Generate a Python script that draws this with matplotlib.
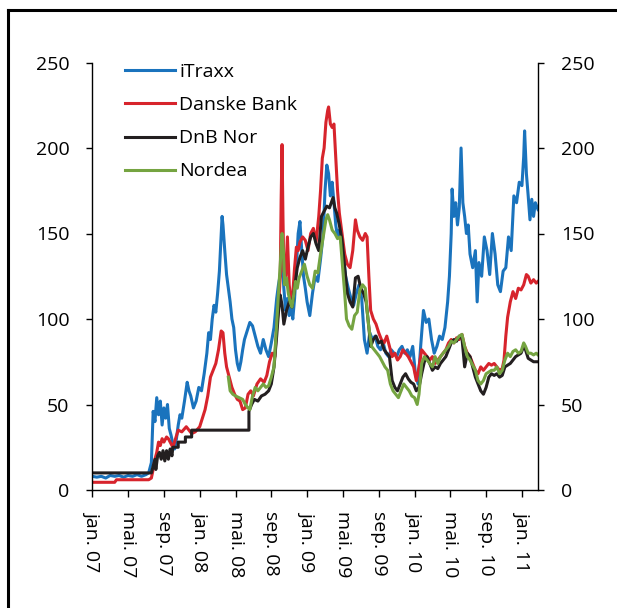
import matplotlib.pyplot as plt
from matplotlib.lines import Line2D

# x values are months since jan. 2007
itraxx_m = [0, 0.5, 1, 1.5, 2, 2.5, 3, 3.5, 4, 4.5, 5, 5.5, 6, 6.3, 6.6, 6.8, 7.0, 7.2, 7.4, 7.6,
            7.8, 8.0, 8.2, 8.4, 8.6, 8.8, 9.0, 9.2, 9.4, 9.6, 9.8, 10.0, 10.3, 10.6, 10.8, 11.0, 11.3,
            11.6, 11.9, 12.2, 12.5, 12.8, 13.0, 13.2, 13.4, 13.6, 13.8, 14.0, 14.2, 14.4, 14.5, 14.6,
            14.8, 15.0, 15.2, 15.4, 15.6, 15.8, 16.0, 16.2, 16.4, 16.6, 16.8, 17.0, 17.3, 17.6, 17.9,
            18.2, 18.5, 18.8, 19.1, 19.4, 19.7, 20.0, 20.3, 20.6, 20.8, 21.0, 21.2, 21.4, 21.6, 21.8,
            22.0, 22.2, 22.4, 22.6, 22.8, 23.0, 23.2, 23.4, 23.6, 23.8, 24.0, 24.3, 24.6, 24.9, 25.2,
            25.5, 25.8, 26.0, 26.2, 26.4, 26.6, 26.8, 27.0, 27.2, 27.4, 27.6, 27.8, 28.0, 28.3, 28.6,
            28.9, 29.2, 29.5, 29.8, 30.1, 30.4, 30.7, 31.0, 31.3, 31.6, 31.9, 32.2, 32.5, 32.8, 33.1,
            33.4, 33.7, 34.0, 34.3, 34.6, 34.9, 35.2, 35.5, 35.8, 36.1, 36.4, 36.7, 37.0, 37.3, 37.6,
            37.9, 38.2, 38.5, 38.8, 39.1, 39.4, 39.7, 39.9, 40.1, 40.2, 40.4, 40.6, 40.8, 41.0, 41.2,
            41.4, 41.6, 41.8, 42.0, 42.2, 42.5, 42.8, 43.0, 43.2, 43.5, 43.8, 44.1, 44.4, 44.7, 45.0,
            45.3, 45.6, 45.9, 46.2, 46.5, 46.8, 47.1, 47.4, 47.7, 48.0, 48.2, 48.3, 48.5, 48.7, 48.9,
            49.1, 49.3, 49.5, 49.8]
itraxx_v = [8, 7.5, 8, 7, 8.5, 8, 8.5, 7.5, 8.5, 8, 9, 8, 9, 10, 16, 46, 40, 54, 44, 52,
            38, 48, 42, 50, 36, 32, 27, 24, 30, 38, 44, 42, 52, 63, 58, 55, 48,
            52, 60, 58, 68, 80, 92, 88, 100, 108, 104, 115, 128, 150, 160, 155,
            140, 126, 118, 110, 100, 95, 82, 74, 70, 75, 82, 88, 93, 98, 96,
            90, 84, 80, 88, 82, 78, 86, 95, 112, 120, 126, 135, 118, 105, 112,
            102, 108, 100, 112, 130, 150, 157, 140, 125, 118, 110, 102, 115, 125, 122,
            135, 150, 175, 190, 185, 172, 180, 168, 155, 148, 152, 145, 140, 125, 118,
            112, 108, 115, 120, 112, 88, 80, 92, 88, 90, 84, 82, 86, 80, 78,
            82, 80, 78, 82, 84, 80, 82, 78, 84, 68, 62, 85, 105, 98, 100,
            88, 80, 84, 90, 88, 95, 110, 125, 150, 176, 160, 168, 155, 165, 200,
            168, 160, 150, 155, 138, 130, 140, 110, 133, 125, 148, 140, 126, 150, 138,
            120, 116, 128, 130, 148, 140, 172, 168, 180, 178, 195, 210, 185, 172, 158,
            170, 160, 168, 164]

danske_m = [0, 2.5, 2.7, 6.3, 6.6, 6.8, 7.0, 7.2, 7.4, 7.6, 7.8, 8.0, 8.3, 8.5, 8.8, 9.0, 9.3, 9.6,
            10.0, 10.5, 10.8, 11.1, 11.5, 12.0, 12.3, 12.6, 12.9, 13.2, 13.5, 13.8, 14.1, 14.4, 14.6,
            14.8, 15.0, 15.3, 15.6, 15.9, 16.2, 16.5, 16.8, 17.1, 17.4, 17.7, 18.0, 18.4, 18.8, 19.2,
            19.5, 19.8, 20.1, 20.4, 20.6, 20.8, 21.0, 21.1, 21.2, 21.3, 21.4, 21.6, 21.8, 22.0, 22.2,
            22.4, 22.6, 22.8, 23.0, 23.2, 23.5, 23.8, 24.1, 24.4, 24.7, 25.0, 25.3, 25.5, 25.7, 25.9,
            26.1, 26.3, 26.4, 26.6, 26.8, 27.0, 27.2, 27.4, 27.6, 27.9, 28.2, 28.5, 28.8, 29.1, 29.4,
            29.6, 29.9, 30.2, 30.5, 30.7, 30.9, 31.1, 31.4, 31.7, 32.0, 32.3, 32.6, 32.9, 33.2, 33.5,
            33.8, 34.1, 34.4, 34.7, 35.0, 35.3, 35.6, 35.9, 36.2, 36.5, 36.8, 37.1, 37.4, 37.7, 38.0,
            38.3, 38.6, 38.9, 39.2, 39.5, 39.8, 40.1, 40.4, 40.7, 41.0, 41.3, 41.6, 41.9, 42.2, 42.5,
            42.8, 43.1, 43.4, 43.7, 44.0, 44.3, 44.6, 44.9, 45.2, 45.5, 45.8, 46.0, 46.2, 46.4, 46.7,
            47.0, 47.3, 47.6, 47.9, 48.2, 48.5, 48.7, 49.0, 49.3, 49.6, 49.8]
danske_v = [4.5, 4.5, 6, 6, 7, 12, 18, 22, 28, 26, 30, 28, 31, 30, 27, 25, 30, 35,
            34, 37, 35, 33, 34, 37, 42, 47, 55, 66, 70, 74, 82, 93, 92,
            80, 72, 66, 60, 56, 53, 52, 47, 48, 56, 58, 55, 62, 65, 63,
            67, 75, 80, 78, 95, 107, 125, 170, 202, 160, 128, 125, 148, 120, 110,
            115, 130, 142, 140, 145, 148, 146, 140, 150, 153, 145, 160, 175, 194, 200,
            215, 222, 224, 214, 212, 214, 195, 175, 162, 150, 138, 132, 130, 140, 158,
            152, 148, 146, 150, 148, 125, 105, 100, 97, 92, 88, 86, 90, 84, 78,
            80, 76, 78, 82, 80, 78, 75, 72, 64, 72, 82, 80, 78, 76, 78,
            74, 76, 78, 80, 82, 86, 88, 86, 89, 88, 91, 84, 80, 78, 74,
            70, 68, 72, 70, 72, 74, 73, 74, 72, 70, 71, 76, 90, 101, 110,
            116, 112, 118, 117, 120, 126, 125, 121, 123, 121, 122]

dnb_m = [0, 6.6, 6.8, 7.0, 7.1, 7.3, 7.5, 7.7, 7.9, 8.1, 8.3, 8.5, 8.7, 8.9, 9.0, 9.6, 9.6, 10.4,
         10.4, 11.1, 11.1, 17.5, 17.5, 17.8, 18.1, 18.5, 18.9, 19.3, 19.7, 20.0, 20.3, 20.6, 20.8,
         21.0, 21.2, 21.4, 21.7, 22.0, 22.3, 22.6, 22.9, 23.2, 23.5, 23.8, 24.1, 24.4, 24.7, 25.0,
         25.3, 25.6, 25.9, 26.2, 26.5, 26.7, 26.9, 27.1, 27.3, 27.6, 27.9, 28.2, 28.5, 28.8, 29.1,
         29.4, 29.7, 30.0, 30.3, 30.6, 30.9, 31.1, 31.4, 31.7, 32.0, 32.3, 32.6, 32.9, 33.2, 33.5,
         33.8, 34.1, 34.4, 34.7, 35.0, 35.3, 35.6, 35.9, 36.2, 36.5, 36.8, 37.1, 37.4, 37.7, 38.0,
         38.3, 38.6, 38.9, 39.2, 39.5, 39.8, 40.1, 40.4, 40.7, 41.0, 41.3, 41.6, 41.9, 42.2, 42.5,
         42.8, 43.1, 43.4, 43.7, 44.0, 44.3, 44.6, 44.9, 45.2, 45.5, 45.8, 46.1, 46.4, 46.7, 47.0,
         47.3, 47.6, 47.9, 48.2, 48.4, 48.7, 49.0, 49.3, 49.6, 49.8]
dnb_v = [10, 10, 14, 18, 12, 20, 22, 18, 23, 17, 23, 18, 24, 20, 25, 25, 28, 28,
         31, 31, 35, 35, 46, 50, 53, 52, 55, 56, 58, 62, 72, 90, 104,
         114, 108, 97, 105, 110, 107, 118, 130, 136, 140, 135, 142, 148, 150, 144,
         140, 160, 163, 166, 165, 168, 171, 165, 162, 155, 146, 130, 115, 110, 107,
         124, 125, 118, 115, 110, 95, 84, 88, 90, 86, 87, 82, 80, 78, 64,
         60, 58, 62, 66, 68, 65, 63, 62, 58, 60, 68, 75, 78, 74, 70,
         72, 71, 74, 76, 78, 82, 86, 88, 87, 90, 89, 72, 80, 78, 72,
         66, 62, 58, 56, 60, 66, 68, 67, 68, 66, 67, 72, 73, 74, 76,
         78, 79, 80, 84, 82, 77, 76, 75, 75, 75]

nordea_m = [15.2, 15.4, 15.7, 16.0, 16.4, 16.8, 17.1, 17.4, 17.6, 17.9, 18.2, 18.5, 18.8, 19.1,
            19.4, 19.7, 20.0, 20.3, 20.6, 20.8, 21.0, 21.2, 21.35, 21.5, 21.7, 21.9, 22.1, 22.3,
            22.5, 22.7, 22.9, 23.1, 23.4, 23.7, 24.0, 24.3, 24.6, 24.9, 25.2, 25.5, 25.8, 26.1,
            26.3, 26.5, 26.8, 27.1, 27.4, 27.7, 28.0, 28.2, 28.4, 28.7, 29.0, 29.3, 29.6, 29.9,
            30.2, 30.5, 30.7, 30.9, 31.2, 31.5, 31.8, 32.1, 32.4, 32.7, 33.0, 33.3, 33.6, 33.9,
            34.2, 34.5, 34.8, 35.1, 35.4, 35.7, 36.0, 36.3, 36.5, 36.8, 37.1, 37.4, 37.7, 38.0,
            38.3, 38.6, 38.9, 39.2, 39.5, 39.8, 40.1, 40.4, 40.7, 41.0, 41.3, 41.6, 41.9, 42.2,
            42.5, 42.8, 43.1, 43.4, 43.7, 44.0, 44.3, 44.6, 44.9, 45.2, 45.5, 45.8, 46.1, 46.4,
            46.7, 47.0, 47.3, 47.6, 47.9, 48.2, 48.4, 48.7, 49.0, 49.3, 49.6, 49.8]
nordea_v = [66, 58, 56, 55, 54, 53, 50, 48, 47, 55, 60, 58, 60, 62,
            60, 61, 66, 72, 97, 115, 132, 150, 140, 120, 124, 115, 110, 107,
            114, 122, 118, 124, 128, 132, 125, 120, 118, 128, 127, 138, 148, 158,
            161, 158, 152, 150, 147, 148, 128, 115, 100, 96, 94, 102, 104, 117,
            120, 118, 105, 95, 84, 82, 80, 78, 75, 72, 70, 62, 58, 56,
            54, 58, 62, 60, 58, 55, 54, 50, 56, 74, 78, 76, 74, 72,
            78, 74, 78, 80, 82, 84, 87, 86, 88, 90, 91, 84, 78, 76,
            73, 70, 64, 62, 64, 68, 69, 70, 70, 72, 68, 70, 76, 80,
            78, 81, 82, 80, 81, 86, 84, 80, 80, 79, 80, 79]

tick_pos = [0, 4, 8, 12, 16, 20, 24, 28, 32, 36, 40, 44, 48]
tick_labels = ["jan. 07", "mai. 07", "sep. 07", "jan. 08", "mai. 08", "sep. 08", "jan. 09",
               "mai. 09", "sep. 09", "jan. 10", "mai. 10", "sep. 10", "jan. 11"]

plt.rcParams['font.family'] = ['Open Sans', 'DejaVu Sans']
plt.rcParams['font.size'] = 14

fig = plt.figure(figsize=(6.17, 6.08), dpi=100)
ax = fig.add_axes([92.3 / 617, 1 - 490 / 608, 446 / 617, 427.5 / 608])

ax.plot(itraxx_m, itraxx_v, color="#1a73bd", lw=2.2, label="iTraxx")
ax.plot(danske_m, danske_v, color="#d7242c", lw=2.2, label="Danske Bank")
ax.plot(dnb_m, dnb_v, color="#231f20", lw=2.2, label="DnB Nor")
ax.plot(nordea_m, nordea_v, color="#75a441", lw=2.2, label="Nordea")

ax.set_xlim(0, 49.83)
ax.set_ylim(0, 250)
ax.set_yticks(range(0, 251, 50))
ax.set_xticks(tick_pos)
ax.set_xticklabels(tick_labels, rotation=-90, ha="center", va="top")

ax.spines["top"].set_visible(False)
for s in ["left", "right", "bottom"]:
    ax.spines[s].set_linewidth(1.0)
ax.tick_params(axis="y", left=True, right=True, labelleft=True, labelright=True,
               direction="out", length=4.5, width=1.0, pad=12)
ax.tick_params(axis="x", direction="out", length=5, width=1.0, pad=10)

leg = ax.legend(loc="upper left", bbox_to_anchor=(125 / 617, 1 - 63 / 608),
                bbox_transform=fig.transFigure, frameon=False, borderpad=0,
                borderaxespad=0, handlelength=2.55, handletextpad=0.25,
                labelspacing=0.78, fontsize=14)

# outer frame (left and top edges)
fig.add_artist(Line2D([8 / 617, 8 / 617], [0, 1 - 10 / 608], transform=fig.transFigure,
                      color="black", lw=2.2))
fig.add_artist(Line2D([8 / 617, 1], [1 - 10 / 608, 1 - 10 / 608], transform=fig.transFigure,
                      color="black", lw=2.2))

fig.savefig("out.png", dpi=100)
